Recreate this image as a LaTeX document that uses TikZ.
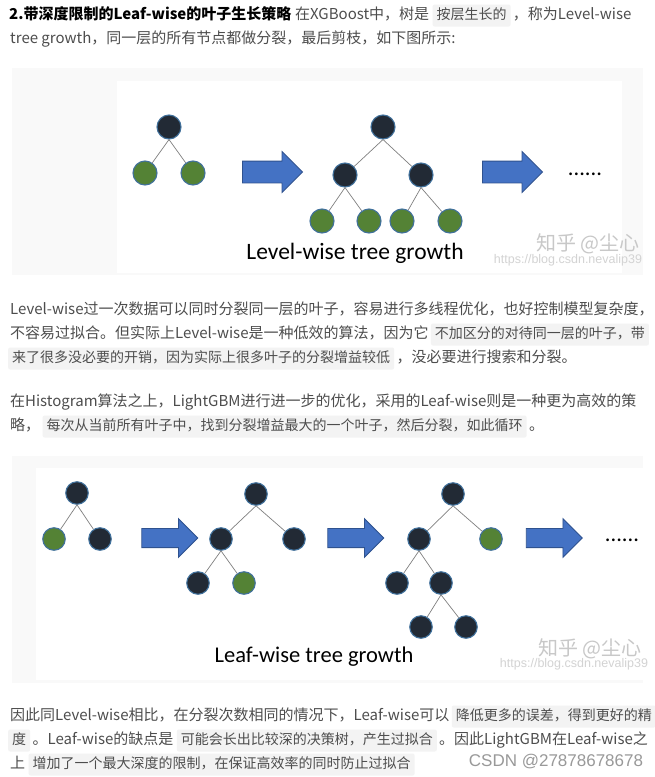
\documentclass[tikz,border=0pt]{standalone}
\usepackage{fontspec}
\usetikzlibrary{positioning,shapes.arrows}
\newfontfamily\cjk{Noto Sans CJK SC}
\newfontfamily\slidefont{Carlito}
\newfontfamily\markfont{Liberation Sans}
\definecolor{txtgray}{HTML}{4D4D4D}
\definecolor{hlgray}{HTML}{F3F3F3}
\definecolor{panelgray}{HTML}{F9F9F9}
\definecolor{darknode}{HTML}{222A35}
\definecolor{greennode}{HTML}{548235}
\definecolor{nodeedge}{HTML}{41719C}
\definecolor{arrowblue}{HTML}{4472C4}
\definecolor{arrowedge}{HTML}{2F528F}
\definecolor{wmgray}{HTML}{C8C8C8}

\tikzset{
  txt/.style={inner xsep=0pt, inner ysep=0pt, text height=11pt, text depth=4pt, text=txtgray, font=\cjk\fontsize{15}{15}\selectfont},
  head/.style={txt, text=black, font=\cjk\bfseries\fontsize{15}{15}\selectfont},
  hl/.style={txt, fill=hlgray, inner xsep=4pt, inner ysep=3.5pt, rounded corners=2pt, font=\cjk\fontsize{14}{14}\selectfont},
  dnode/.style={circle, draw=nodeedge, fill=darknode, line width=1.1pt, inner sep=0pt},
  gnode/.style={circle, draw=nodeedge, fill=greennode, line width=1.1pt, inner sep=0pt},
  branch/.style={draw=gray, line width=0.7pt},
  bigarrow/.style={single arrow, draw=arrowedge, fill=arrowblue, line width=0.8pt, inner xsep=0pt},
  caption/.style={font=\slidefont\fontsize{22.5}{22.5}\selectfont, text=black},
  wmark/.style={font=\cjk\fontsize{20}{20}\selectfont, text=wmgray},
  wurl/.style={font=\markfont\fontsize{12.5}{12.5}\selectfont, text=wmgray!80}
}

\begin{document}
\begin{tikzpicture}[x=1pt, y=-1pt]
  \useasboundingbox (0,0) rectangle (655,777);
  \fill[white] (0,0) rectangle (655,777);

  \node[head, anchor=base west] (H1a) at (9,19) {2.带深度限制的Leaf-wise的叶子生长策略};
  \node[txt, right=0pt of H1a] (H1b) {\ 在XGBoost中，树是};
  \node[hl, right=3pt of H1b] (H1c) {按层生长的};
  \node[txt, right=2pt of H1c] (H1d) {，称为Level-wise};
  \node[txt, anchor=base west] (H2a) at (10,43) {tree growth，同一层的所有节点都做分裂，最后剪枝，如下图所示:};

  \fill[panelgray] (12,68) rectangle (643,275);
  \fill[white] (117,81) rectangle (622,273);

  \node[dnode, minimum size=24pt] (LR1) at (169,127) {};
  \node[gnode, minimum size=24pt] (LA1) at (145,173) {};
  \node[gnode, minimum size=24pt] (LB1) at (193,173) {};
  \node[bigarrow, inner ysep=10.5pt, single arrow head extend=9.5pt, minimum height=60pt] (LARR1) at (267,172) {};
  \node[dnode, minimum size=24pt] (LR2) at (383,127) {};
  \node[dnode, minimum size=24pt] (LA2) at (345,175) {};
  \node[dnode, minimum size=24pt] (LB2) at (421,175) {};
  \node[gnode, minimum size=24pt] (LC2) at (322,221) {};
  \node[gnode, minimum size=24pt] (LD2) at (369,221) {};
  \node[gnode, minimum size=24pt] (LE2) at (402,221) {};
  \node[gnode, minimum size=24pt] (LF2) at (450,221) {};
  \node[bigarrow, inner ysep=10.5pt, single arrow head extend=9.5pt, minimum height=60pt] (LARR2) at (507,172) {};
  \node[caption] (LDOTS) at (585,174) {......};

  \draw[branch] (LR1.south) -- (LA1) (LR1.south) -- (LB1);
  \draw[branch] (LR2.south) -- (LA2) (LR2.south) -- (LB2);
  \draw[branch] (LA2.south) -- (LC2) (LA2.south) -- (LD2);
  \draw[branch] (LB2.south) -- (LE2) (LB2.south) -- (LF2);

  \node[caption, font=\slidefont\fontsize{23.5}{23.5}\selectfont] (LCAP) at (355,253) {Level-wise tree growth};
  \node[wmark] (LWM) at (588,244) {知乎 @尘心};
  \node[wurl] (LURL) at (568,260) {https://blog.csdn.nevalip39};

  \node[txt, anchor=base west] (P1a) at (10,314) {Level-wise过一次数据可以同时分裂同一层的叶子，容易进行多线程优化，也好控制模型复杂度，};
  \node[txt, anchor=base west] (P1b) at (10,338) {不容易过拟合。但实际上Level-wise是一种低效的算法，因为它};
  \node[hl, right=2pt of P1b] (P1c) {不加区分的对待同一层的叶子，带};
  \node[hl, anchor=base west] (P1d) at (8,362) {来了很多没必要的开销，因为实际上很多叶子的分裂增益较低};
  \node[txt, right=2pt of P1d] (P1e) {，没必要进行搜索和分裂。};

  \node[txt, anchor=base west] (P2a) at (10,406) {在Histogram算法之上，LightGBM进行进一步的优化，采用的Leaf-wise则是一种更为高效的策};
  \node[txt, anchor=base west] (P2b) at (10,430) {略，};
  \node[hl, right=2pt of P2b] (P2c) {每次从当前所有叶子中，找到分裂增益最大的一个叶子，然后分裂，如此循环};
  \node[txt, right=2pt of P2c] (P2d) {。};

  \fill[panelgray] (12,456) rectangle (643,683);
  \fill[white] (36,468) rectangle (643,680);

  \node[dnode, minimum size=22.5pt] (FR1) at (77,493) {};
  \node[gnode, minimum size=22.5pt] (FA1) at (54,539) {};
  \node[dnode, minimum size=22.5pt] (FB1) at (100,539) {};
  \node[bigarrow, inner ysep=9.2pt, single arrow head extend=9.8pt, minimum height=56pt] (FARR1) at (165,538) {};
  \node[dnode, minimum size=22.5pt] (FR2) at (256,494) {};
  \node[dnode, minimum size=22.5pt] (FA2) at (221,539) {};
  \node[dnode, minimum size=22.5pt] (FB2) at (294,539) {};
  \node[dnode, minimum size=22.5pt] (FC2) at (198,583) {};
  \node[gnode, minimum size=22.5pt] (FD2) at (244,583) {};
  \node[bigarrow, inner ysep=9.2pt, single arrow head extend=9.8pt, minimum height=56pt] (FARR2) at (351,538) {};
  \node[dnode, minimum size=22.5pt] (FR3) at (453,494) {};
  \node[dnode, minimum size=22.5pt] (FA3) at (419,539) {};
  \node[gnode, minimum size=22.5pt] (FB3) at (491,539) {};
  \node[dnode, minimum size=22.5pt] (FC3) at (397,583) {};
  \node[dnode, minimum size=22.5pt] (FD3) at (441,583) {};
  \node[dnode, minimum size=22.5pt] (FE3) at (421,627) {};
  \node[dnode, minimum size=22.5pt] (FF3) at (466,627) {};
  \node[bigarrow, inner ysep=9.2pt, single arrow head extend=9.8pt, minimum height=56pt] (FARR3) at (549.5,538) {};
  \node[caption] (FDOTS) at (622,540) {......};

  \draw[branch] (FR1.south) -- (FA1) (FR1.south) -- (FB1);
  \draw[branch] (FR2.south) -- (FA2) (FR2.south) -- (FB2);
  \draw[branch] (FA2.south) -- (FC2) (FA2.south) -- (FD2);
  \draw[branch] (FR3.south) -- (FA3) (FR3.south) -- (FB3);
  \draw[branch] (FA3.south) -- (FC3) (FA3.south) -- (FD3);
  \draw[branch] (FD3.south) -- (FE3) (FD3.south) -- (FF3);

  \node[caption] (FCAP) at (314,657) {Leaf-wise tree growth};
  \node[wmark] (FWM) at (590,649) {知乎 @尘心};
  \node[wurl] (FURL) at (574,664) {https://blog.csdn.nevalip39};

  \node[txt, anchor=base west] (Q1a) at (10,720) {因此同Level-wise相比，在分裂次数相同的情况下，Leaf-wise可以};
  \node[hl, right=2pt of Q1a] (Q1b) {降低更多的误差，得到更好的精};
  \node[hl, anchor=base west] (Q2a) at (8,744) {度};
  \node[txt, right=2pt of Q2a] (Q2b) {。Leaf-wise的缺点是};
  \node[hl, right=3pt of Q2b] (Q2c) {可能会长出比较深的决策树，产生过拟合};
  \node[txt, right=2pt of Q2c] (Q2d) {。因此LightGBM在Leaf-wise之};
  \node[txt, anchor=base west] (Q3a) at (10,768) {上};
  \node[hl, right=3pt of Q3a] (Q3b) {增加了一个最大深度的限制，在保证高效率的同时防止过拟合};
  \node[font=\markfont\fontsize{17}{17}\selectfont, text=gray!80] (CSDN) at (556,762) {CSDN @27878678678};
\end{tikzpicture}
\end{document}
